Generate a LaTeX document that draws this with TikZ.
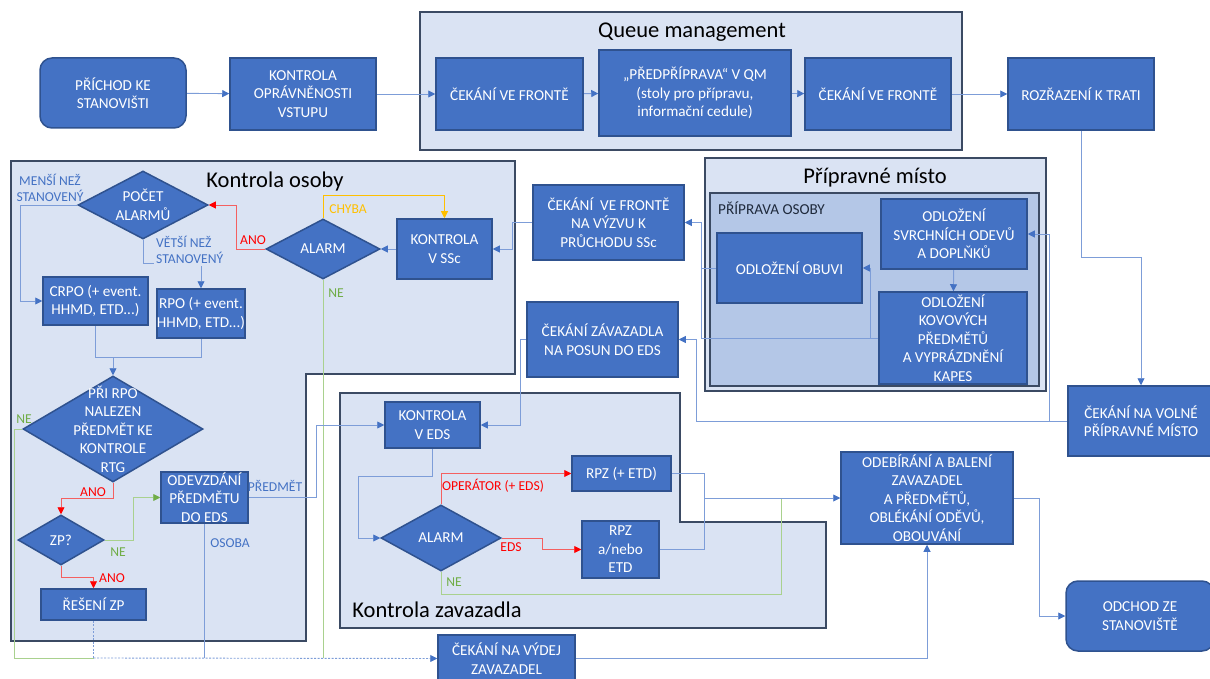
\documentclass[tikz,border=0pt]{standalone}
\usepackage{fontspec}
\setmainfont{Carlito}
\usetikzlibrary{shapes.geometric,arrows.meta}
\pgfdeclarelayer{areas}
\pgfdeclarelayer{lines}
\pgfsetlayers{areas,lines,main}
\definecolor{nodefill}{HTML}{4472C4}
\definecolor{nodeborder}{HTML}{2F528F}
\definecolor{grpfill}{HTML}{DAE3F3}
\definecolor{grpinner}{HTML}{B4C7E7}
\definecolor{grpborder}{HTML}{3B4A63}
\definecolor{conn}{HTML}{7D9DD8}
\definecolor{tipblue}{HTML}{4472C4}
\definecolor{connred}{HTML}{F46060}
\definecolor{tipred}{HTML}{FF0000}
\definecolor{conngreen}{HTML}{A9D18E}
\definecolor{txtgreen}{HTML}{70AD47}
\definecolor{connorange}{HTML}{FFC000}
\definecolor{darktxt}{HTML}{1F2A3C}
\newcommand{\nodefont}{\fontsize{15.2}{18.5}\selectfont}
\newcommand{\lblfont}{\fontsize{13.6}{16}\selectfont}
\newcommand{\ttlfont}{\fontsize{22.5}{26}\selectfont}
\tikzset{
  stepbox/.style={rectangle, fill=nodefill, draw=nodeborder, line width=1.5pt,
    text=white, font=\nodefont, align=center, inner sep=0pt},
  roundbox/.style={stepbox, rounded corners=12pt},
  decision/.style={diamond, fill=nodefill, draw=nodeborder, line width=1.5pt, inner sep=0pt},
  dectext/.style={text=white, font=\nodefont, align=center},
  group/.style={fill=grpfill, draw=grpborder, line width=1.5pt},
  flow/.style={draw=conn, line width=0.9pt},
  flowarrow/.style={flow, -{Triangle[length=7pt,width=7pt,color=tipblue]}},
  redarrow/.style={draw=connred, line width=0.9pt, -{Triangle[length=7pt,width=7pt,color=tipred]}},
  greenflow/.style={draw=conngreen, line width=0.9pt},
  greenarrow/.style={greenflow, -{Triangle[length=7pt,width=7pt,color=txtgreen]}},
  orangearrow/.style={draw=connorange, line width=0.9pt, -{Triangle[length=7pt,width=7pt,color=connorange]}},
  lbl/.style={font=\lblfont, inner sep=1pt, align=center},
  ttl/.style={font=\ttlfont, text=black, inner sep=0pt}
}
\begin{document}
\begin{tikzpicture}[x=1pt,y=-1pt]
\useasboundingbox (0,0) rectangle (1210,679);

% ---- group areas ----
\begin{pgfonlayer}{areas}
\draw[group] (420,12) rectangle (962,150);
\draw[group] (11,161) -- (515,161) -- (515,374) -- (306,374) -- (306,641) -- (11,641) -- cycle;
\draw[group] (705,158) rectangle (1046,391);
\draw[fill=grpinner, draw=grpborder, line width=1.5pt] (710,193) rectangle (1039,386);
\draw[group] (340,393) -- (680,393) -- (680,522) -- (826,522) -- (826,628) -- (340,628) -- cycle;
\end{pgfonlayer}

\node[ttl] (tqm) at (692,32) {Queue management};
\node[ttl] (tko) at (275,182) {Kontrola osoby};
\node[ttl] (tpm) at (875,178) {Přípravné místo};
\node[ttl] (tkz) at (437,610) {Kontrola zavazadla};
\node[font=\nodefont, text=darktxt, anchor=west, inner sep=0pt] (tpo) at (718,208) {PŘÍPRAVA OSOBY};

% ---- process steps ----
\node[roundbox, minimum width=146, minimum height=70] (prichod) at (113,93) {PŘÍCHOD KE\\STANOVIŠTI};
\node[stepbox, minimum width=146, minimum height=72] (opravn) at (303,94) {KONTROLA\\OPRÁVNĚNOSTI\\VSTUPU};
\node[stepbox, minimum width=147, minimum height=72] (cek1) at (509.5,94) {ČEKÁNÍ VE FRONTĚ};
\node[stepbox, minimum width=192, minimum height=86] (predpr) at (695,93) {„PŘEDPŘÍPRAVA“ V QM\\(stoly pro přípravu,\\informační cedule)};
\node[stepbox, minimum width=146, minimum height=72] (cek2) at (878,94) {ČEKÁNÍ VE FRONTĚ};
\node[stepbox, minimum width=146, minimum height=72] (rozraz) at (1081,94) {ROZŘAZENÍ K TRATI};

\node[stepbox, minimum width=146, minimum height=70] (cekvolne) at (1141,421) {ČEKÁNÍ NA VOLNÉ\\PŘÍPRAVNÉ MÍSTO};
\node[stepbox, minimum width=146, minimum height=70] (svrch) at (954,234) {ODLOŽENÍ\\SVRCHNÍCH ODEVŮ\\A DOPLŇKŮ};
\node[stepbox, minimum width=145, minimum height=70] (obuvi) at (789.5,268) {ODLOŽENÍ OBUVI};
\node[stepbox, minimum width=148, minimum height=92] (kov) at (953,338) {ODLOŽENÍ\\KOVOVÝCH\\PŘEDMĚTŮ\\A VYPRÁZDNĚNÍ\\KAPES};
\node[stepbox, minimum width=151, minimum height=75] (cekvyzvu) at (608.5,222.5) {ČEKÁNÍ\ \ VE FRONTĚ\\NA VÝZVU K\\PRŮCHODU SSc};
\node[stepbox, minimum width=151, minimum height=75] (cekzav) at (602.5,339.5) {ČEKÁNÍ ZÁVAZADLA\\NA POSUN DO EDS};

\node[stepbox, minimum width=95, minimum height=60] (kssc) at (444.5,249) {KONTROLA\\V SSc};
\node[decision, minimum width=114, minimum height=60, label={[dectext]center:ALARM}] (alarm1) at (323,249) {};
\node[decision, minimum width=130, minimum height=68, label={[dectext]center:POČET\\ALARMŮ}] (pocet) at (143,205) {};
\node[stepbox, minimum width=105, minimum height=48] (crpo) at (95.5,301) {CRPO (+ event.\\HHMD, ETD...)};
\node[stepbox, minimum width=88, minimum height=49] (rpo) at (201,313.5) {RPO (+ event.\\HHMD, ETD...)};
\node[decision, minimum width=180, minimum height=106, label={[dectext]center:PŘI RPO\\NALEZEN\\PŘEDMĚT KE\\KONTROLE\\RTG}] (prirpo) at (113,429) {};
\node[decision, minimum width=86, minimum height=50, label={[dectext]center:ZP?}] (zp) at (61,540) {};
\node[stepbox, minimum width=105, minimum height=31] (reseni) at (93.5,604.5) {ŘEŠENÍ ZP};
\node[stepbox, minimum width=87, minimum height=51] (odevz) at (204.5,497.5) {ODEVZDÁNÍ\\PŘEDMĚTU\\DO EDS};

\node[stepbox, minimum width=95, minimum height=46] (keds) at (432.5,425) {KONTROLA\\V EDS};
\node[decision, minimum width=120, minimum height=66, label={[dectext]center:ALARM}] (alarm2) at (441,538) {};
\node[stepbox, minimum width=99, minimum height=35] (rpz1) at (621.5,473.5) {RPZ (+ ETD)};
\node[stepbox, minimum width=77, minimum height=57] (rpz2) at (620.5,549.5) {RPZ\\a/nebo\\ETD};
\node[stepbox, minimum width=172, minimum height=92] (odeb) at (927,498) {ODEBÍRÁNÍ A BALENÍ\\ZAVAZADEL\\A PŘEDMĚTŮ,\\OBLÉKÁNÍ ODĚVŮ,\\OBOUVÁNÍ};
\node[roundbox, minimum width=148, minimum height=70] (odchod) at (1140,616) {ODCHOD ZE\\STANOVIŠTĚ};
\node[stepbox, minimum width=137, minimum height=47] (cekvydej) at (506.5,658.5) {ČEKÁNÍ NA VÝDEJ\\ZAVAZADEL};

% junction points
\coordinate (jrpo) at (113,357);
\coordinate (jbot) at (93.5,658);
\coordinate (jrpz) at (704,498);

% ---- connectors, kept under the steps ----
\begin{pgfonlayer}{lines}
% entry row
\draw[flowarrow] (prichod) -- (opravn);
\draw[flowarrow] (opravn) -- (cek1);
\draw[flowarrow] (cek1) -- (predpr);
\draw[flowarrow] (predpr) -- (cek2);
\draw[flowarrow] (cek2) -- (rozraz);
\draw[flowarrow] (rozraz.south) -- ++(0,127) -| (cekvolne.north);
% preparation place
\draw[flowarrow] (cekvolne.west) -- (1049,421) |- (svrch.east);
\draw[flowarrow] (cekvolne.west) -- (696,421) |- (cekzav.east);
\draw[flowarrow] (svrch) -- (kov);
\draw[flowarrow] (kov.west |- 0,338) -- (870,338) |- (obuvi.east);
\draw[flowarrow] (kov.west |- 0,338) -- (701,338) |- (cekvyzvu.east);
\draw[flow] (obuvi.west) -- (701,268);
% person screening
\draw[flowarrow] (cekvyzvu.west) -- (512,222.5) |- (kssc.east);
\draw[flowarrow] (kssc) -- (alarm1);
\draw[orangearrow] (alarm1.north) -- (323,195) -| (kssc.north);
\draw[redarrow] (alarm1.west) -- (236,249) |- (pocet.east);
\draw[greenflow] (alarm1.south) -- (323,658);
\draw[flowarrow] (pocet.west) -- (20,205) |- (crpo.west);
\draw[flowarrow] (pocet.south) -- (143,263) -| (rpo.north);
\draw[flow] (crpo.south) -- (95.5,357) -| (rpo.south);
\draw[flowarrow] (jrpo) -- (prirpo.north);
\draw[greenflow] (prirpo.west) -- (14,429) -- (14,658) -- (jbot);
\draw[redarrow] (prirpo.south) -- (113,498) -| (zp.north);
\draw[redarrow] (zp.south) -- (61,577) -| (reseni.north);
\draw[greenarrow] (zp.east) -- (133,540) |- (odevz.west);
\draw[flow, dash pattern=on 2pt off 1.5pt] (reseni.south) -- (jbot);
\draw[flowarrow, dash pattern=on 2pt off 1.5pt] (jbot) -- (cekvydej.west);
\draw[flowarrow] (odevz.east) -- (316,497.5) |- (keds.west);
\draw[flow] (odevz.south) -- (204.5,658);
% baggage screening
\draw[flowarrow] (cekzav.west) -- (520,339.5) |- (keds.east);
\draw[flowarrow] (keds.south) -- (432.5,476) -- (358,476) |- (alarm2.west);
\draw[redarrow] (alarm2.north) |- (rpz1.west);
\draw[redarrow] (alarm2.east) -- (542,538) |- (rpz2.west);
\draw[greenflow] (alarm2.south) -- (441,594) -- (781,594) -- (781,498);
\draw[flow] (rpz1.east) -| (jrpz);
\draw[flow] (rpz2.east) -| (jrpz);
\draw[flowarrow] (jrpz) -- (odeb.west);
\draw[flowarrow] (cekvydej.east |- 0,658) -| (odeb.south);
\draw[flowarrow] (odeb.east) -- (1039,498) |- (odchod.west);
\end{pgfonlayer}

% ---- connector labels ----
\node[lbl, text=tipblue] (lmensi) at (50,188) {MENŠÍ NEŽ\\STANOVENÝ};
\node[lbl, text=tipblue, fill=grpfill, anchor=west, align=left, inner sep=2pt] (lvetsi) at (154,250) {VĚTŠÍ NEŽ\\STANOVENÝ};
\node[lbl, text=tipred] (lano1) at (253,240) {ANO};
\node[lbl, text=connorange] (lchyba) at (348,209) {CHYBA};
\node[lbl, text=txtgreen] (lne1) at (336,293) {NE};
\node[lbl, text=txtgreen] (lne2) at (24,419) {NE};
\node[lbl, text=tipred] (lano2) at (93,492) {ANO};
\node[lbl, text=tipred] (lano3) at (112,578) {ANO};
\node[lbl, text=txtgreen] (lne3) at (118,552) {NE};
\node[lbl, text=tipblue] (lpredmet) at (275,486) {PŘEDMĚT};
\node[lbl, text=tipblue] (losoba) at (230,543) {OSOBA};
\node[lbl, text=tipred] (loper) at (493,486) {OPERÁTOR (+ EDS)};
\node[lbl, text=tipred] (leds) at (511,547) {EDS};
\node[lbl, text=txtgreen] (lne4) at (454,582) {NE};
\end{tikzpicture}
\end{document}
